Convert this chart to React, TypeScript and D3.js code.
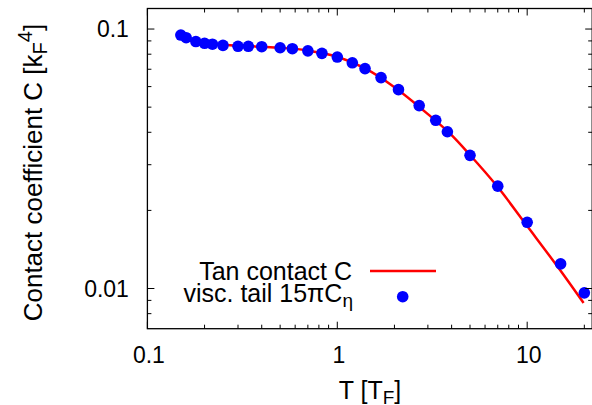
import React from "react";
import * as d3 from "d3";

const visT = [0.15, 0.16, 0.18, 0.2, 0.22, 0.25, 0.3, 0.34, 0.4, 0.5, 0.58, 0.7, 0.83, 1.0, 1.2, 1.4, 1.7, 2.1, 2.7, 3.3, 3.8, 5.0, 7.0, 10, 15, 20];
const visC = [0.0948, 0.0926, 0.0895, 0.0881, 0.0874, 0.0865, 0.0858, 0.0858, 0.0855, 0.0847, 0.084, 0.0824, 0.0806, 0.078, 0.0741, 0.0704, 0.065, 0.0584, 0.0507, 0.0445, 0.0402, 0.0326, 0.0248, 0.018, 0.01244, 0.00962];

const tanT = [0.16, 0.2, 0.25, 0.3, 0.4, 0.5, 0.7, 1.0, 1.4, 2.0, 3.0, 4.0, 5.0, 7.0, 10, 15, 19.8];
const tanC = [0.0905, 0.0885, 0.087, 0.0862, 0.0855, 0.0848, 0.0826, 0.0782, 0.0705, 0.0597, 0.047, 0.039, 0.0327, 0.0246, 0.0174, 0.0117, 0.0088];

const xMajor = [0.1, 1, 10];
const xMajorLabels = ["0.1", "1", "10"];
const xMinor = [0.2, 0.3, 0.4, 0.5, 0.6, 0.7, 0.8, 0.9, 2, 3, 4, 5, 6, 7, 8, 9, 20];
const yMajor = [0.01, 0.1];
const yMajorLabels = ["0.01", "0.1"];
const yMinor = [0.008, 0.009, 0.02, 0.03, 0.04, 0.05, 0.06, 0.07, 0.08, 0.09];

const W = 592, H = 405;
const L = 147.4, R = 592.2, T = 8.5, B = 328.7;
const FONT = "'Liberation Sans', Arial, Helvetica, sans-serif";

export default function App() {
  const x = d3.scaleLog().domain([0.1, 22]).range([L, R]);
  const y = d3.scaleLog().domain([0.007, 0.12]).range([B, T]);
  const tanData = tanT.map((t, i) => ({ t, c: tanC[i] }));
  const visData = visT.map((t, i) => ({ t, c: visC[i] }));
  const line = d3.line<{ t: number; c: number }>().x(d => x(d.t)).y(d => y(d.c)).curve(d3.curveMonotoneX);
  const maj = 7, min = 4;
  return (
    <svg width={W} height={H} style={{ position: "fixed", left: 0, top: 0, background: "#fff" }} fontFamily={FONT}>
      <defs>
        <clipPath id="plot"><rect x={L} y={T} width={R - L} height={B - T} /></clipPath>
      </defs>
      <g clipPath="url(#plot)">
        <path d={line(tanData) || ""} fill="none" stroke="#ff0000" strokeWidth={2.5} />
        {visData.map((d, i) => (
          <circle key={i} cx={x(d.t)} cy={y(d.c)} r={5.8} fill="#0000ff" />
        ))}
      </g>
      <g stroke="#000" strokeWidth={1}>
        {xMajor.map((v, i) => (
          <g key={"xm" + i}>
            <line x1={x(v)} x2={x(v)} y1={B} y2={B - maj} />
            <line x1={x(v)} x2={x(v)} y1={T} y2={T + maj} />
          </g>
        ))}
        {xMinor.map((v, i) => (
          <g key={"xn" + i}>
            <line x1={x(v)} x2={x(v)} y1={B} y2={B - min} />
            <line x1={x(v)} x2={x(v)} y1={T} y2={T + min} />
          </g>
        ))}
        {yMajor.map((v, i) => (
          <g key={"ym" + i}>
            <line x1={L} x2={L + maj} y1={y(v)} y2={y(v)} />
            <line x1={R} x2={R - maj} y1={y(v)} y2={y(v)} />
          </g>
        ))}
        {yMinor.map((v, i) => (
          <g key={"yn" + i}>
            <line x1={L} x2={L + min} y1={y(v)} y2={y(v)} />
            <line x1={R} x2={R - min} y1={y(v)} y2={y(v)} />
          </g>
        ))}
        <rect x={L} y={T} width={R - L} height={B - T} fill="none" strokeWidth={1.3} />
      </g>
      {xMajor.map((v, i) => (
        <text key={"xl" + i} x={x(v) + 1.5} y={B + 34} textAnchor="middle" fontSize={23} fill="#000">{xMajorLabels[i]}</text>
      ))}
      {yMajor.map((v, i) => (
        <text key={"yl" + i} x={L - 18.5} y={y(v) + 8} textAnchor="end" fontSize={23} fill="#000">{yMajorLabels[i]}</text>
      ))}
      <text x={370} y={398.5} textAnchor="middle" fontSize={25} fill="#000">
        T [T<tspan fontSize={19} dy={5}>F</tspan><tspan dy={-5}>]</tspan>
      </text>
      <text transform={`translate(42,${(T + B) / 2 + 4}) rotate(-90)`} textAnchor="middle" fontSize={26} fill="#000">
        Contact coefficient C [k<tspan fontSize={20} dy={5}>F</tspan><tspan fontSize={20} dy={-15}>4</tspan><tspan dy={10}>]</tspan>
      </text>
      <text x={352} y={280} textAnchor="end" fontSize={25} fill="#000">Tan contact C</text>
      <line x1={370} x2={436} y1={271} y2={271} stroke="#ff0000" strokeWidth={2.5} />
      <text x={353} y={301.7} textAnchor="end" fontSize={25} fill="#000">
        visc. tail 15πC<tspan fontSize={19} dy={5}>η</tspan>
      </text>
      <circle cx={402.7} cy={296.7} r={5.8} fill="#0000ff" />
    </svg>
  );
}
